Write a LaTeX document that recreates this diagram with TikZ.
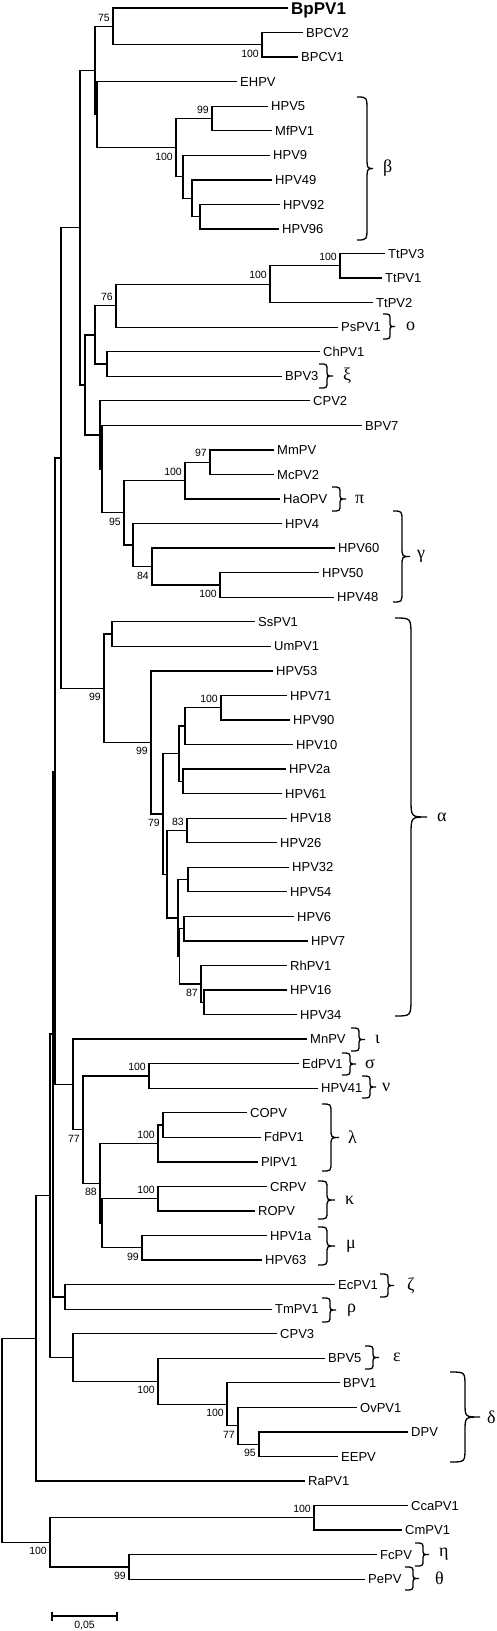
\documentclass[tikz,border=0pt]{standalone}
\usepackage{fontspec}
\setmainfont{Liberation Sans}
\newfontfamily\greekfont{Liberation Serif}
\tikzset{
    branch/.style={line width=1.3pt},
    leaf/.style={anchor=west, inner sep=3pt, text height=9.3pt, text depth=0pt, font=\fontsize{13}{15}\selectfont},
    leafbold/.style={leaf, text height=12.2pt, font=\fontsize{17}{20}\selectfont\bfseries},
    bsup/.style={anchor=south east, inner sep=0pt, xshift=-3pt, yshift=5pt, font=\fontsize{10.5}{12}\selectfont},
    bsdown/.style={anchor=north east, inner sep=0pt, xshift=-3pt, yshift=-5pt, font=\fontsize{10.5}{12}\selectfont},
    greek/.style={anchor=west, inner sep=0pt, font=\fontsize{18}{20}\greekfont},
    bracket/.style={line width=1.3pt},
}
% x, top, bottom, bar offset, tip offset, curl
\newcommand{\cladebrace}[6]{%
    \draw[bracket] (#1,#2) .. controls (#1+#4,#2) .. (#1+#4,#2+#6)
        -- (#1+#4,{(#2+#3)/2-#6}) .. controls (#1+#4,{(#2+#3)/2}) .. (#1+#5,{(#2+#3)/2})
        .. controls (#1+#4,{(#2+#3)/2}) .. (#1+#4,{(#2+#3)/2+#6})
        -- (#1+#4,#3-#6) .. controls (#1+#4,#3) .. (#1,#3);
}

\begin{document}
\begin{tikzpicture}[x=1pt,y=-1pt]
        \useasboundingbox (0,0) rectangle (497,1631);
        %label leaves
        \node[leafbold] (BpPV1) at (288,8) {BpPV1};
        \node[leaf] (BPCV2) at (303,32.6) {BPCV2};
        \node[leaf] (BPCV1) at (298,57.1) {BPCV1};
        \node[leaf] (EHPV) at (237,81.7) {EHPV};
        \node[leaf] (HPV5) at (268,106.2) {HPV5};
        \node[leaf] (MfPV1) at (272,130.8) {MfPV1};
        \node[leaf] (HPV9) at (270,155.3) {HPV9};
        \node[leaf] (HPV49) at (272,179.9) {HPV49};
        \node[leaf] (HPV92) at (280,204.4) {HPV92};
        \node[leaf] (HPV96) at (279,229) {HPV96};
        \node[leaf] (TtPV3) at (385,253.5) {TtPV3};
        \node[leaf] (TtPV1) at (382,278.1) {TtPV1};
        \node[leaf] (TtPV2) at (373,302.6) {TtPV2};
        \node[leaf] (PsPV1) at (338,327.2) {PsPV1};
        \node[leaf] (ChPV1) at (320,351.7) {ChPV1};
        \node[leaf] (BPV3) at (282,376.3) {BPV3};
        \node[leaf] (CPV2) at (310,400.8) {CPV2};
        \node[leaf] (BPV7) at (362,425.4) {BPV7};
        \node[leaf] (MmPV) at (274,449.9) {MmPV};
        \node[leaf] (McPV2) at (274,474.5) {McPV2};
        \node[leaf] (HaOPV) at (280,499) {HaOPV};
        \node[leaf] (HPV4) at (282,523.6) {HPV4};
        \node[leaf] (HPV60) at (335,548.1) {HPV60};
        \node[leaf] (HPV50) at (319,572.7) {HPV50};
        \node[leaf] (HPV48) at (334,597.2) {HPV48};
        \node[leaf] (SsPV1) at (255,621.8) {SsPV1};
        \node[leaf] (UmPV1) at (271,646.3) {UmPV1};
        \node[leaf] (HPV53) at (273,670.9) {HPV53};
        \node[leaf] (HPV71) at (287,695.4) {HPV71};
        \node[leaf] (HPV90) at (290,720) {HPV90};
        \node[leaf] (HPV10) at (293,744.5) {HPV10};
        \node[leaf] (HPV2a) at (286,769.1) {HPV2a};
        \node[leaf] (HPV61) at (282,793.6) {HPV61};
        \node[leaf] (HPV18) at (287,818.2) {HPV18};
        \node[leaf] (HPV26) at (277,842.7) {HPV26};
        \node[leaf] (HPV32) at (289,867.3) {HPV32};
        \node[leaf] (HPV54) at (287,891.8) {HPV54};
        \node[leaf] (HPV6) at (294,916.4) {HPV6};
        \node[leaf] (HPV7) at (308,940.9) {HPV7};
        \node[leaf] (RhPV1) at (287,965.5) {RhPV1};
        \node[leaf] (HPV16) at (287,990) {HPV16};
        \node[leaf] (HPV34) at (297,1014.6) {HPV34};
        \node[leaf] (MnPV) at (307,1039.1) {MnPV};
        \node[leaf] (EdPV1) at (299,1063.7) {EdPV1};
        \node[leaf] (HPV41) at (318,1088.2) {HPV41};
        \node[leaf] (COPV) at (247,1112.8) {COPV};
        \node[leaf] (FdPV1) at (261,1137.3) {FdPV1};
        \node[leaf] (PlPV1) at (258,1161.9) {PlPV1};
        \node[leaf] (CRPV) at (267,1186.4) {CRPV};
        \node[leaf] (ROPV) at (255,1211) {ROPV};
        \node[leaf] (HPV1a) at (267,1235.5) {HPV1a};
        \node[leaf] (HPV63) at (262,1260.1) {HPV63};
        \node[leaf] (EcPV1) at (335,1284.6) {EcPV1};
        \node[leaf] (TmPV1) at (272,1309.2) {TmPV1};
        \node[leaf] (CPV3) at (277,1333.7) {CPV3};
        \node[leaf] (BPV5) at (325,1358.3) {BPV5};
        \node[leaf] (BPV1) at (340,1382.8) {BPV1};
        \node[leaf] (OvPV1) at (357,1407.4) {OvPV1};
        \node[leaf] (DPV) at (408,1431.9) {DPV};
        \node[leaf] (EEPV) at (338,1456.5) {EEPV};
        \node[leaf] (RaPV1) at (305,1481) {RaPV1};
        \node[leaf] (CcaPV1) at (408,1505.6) {CcaPV1};
        \node[leaf] (CmPV1) at (402,1530.1) {CmPV1};
        \node[leaf] (FcPV) at (377,1554.7) {FcPV};
        \node[leaf] (PePV) at (365,1579.2) {PePV};
        %inner nodes
        \coordinate (bpcv) at (262,44.8);
        \coordinate (n75) at (113,26.4);
        \coordinate (hpv5) at (212,118.5);
        \coordinate (hpv92) at (200,216.7);
        \coordinate (hpv49) at (192,198.3);
        \coordinate (hpv9) at (183,176.8);
        \coordinate (beta) at (176,147.6);
        \coordinate (ehpv) at (97,114.6);
        \coordinate (topc) at (95,70.5);
        \coordinate (ttpv3) at (340,265.8);
        \coordinate (ttpv) at (270,284.2);
        \coordinate (n76) at (116,305.7);
        \coordinate (chpv) at (107,364);
        \coordinate (omxi) at (95,334.9);
        \coordinate (mmpv) at (210,462.2);
        \coordinate (hapv) at (185,480.6);
        \coordinate (hpv50) at (220,584.9);
        \coordinate (n84) at (152,566.5);
        \coordinate (hpv4) at (133,545);
        \coordinate (n95) at (124,512.8);
        \coordinate (bpv7) at (102,469.1);
        \coordinate (cpv2) at (100,435);
        \coordinate (midc) at (85,385);
        \coordinate (upc) at (80,227.8);
        \coordinate (sspv) at (112,634);
        \coordinate (hpv71) at (221,707.7);
        \coordinate (hpv10) at (185,726.1);
        \coordinate (hpv2a) at (183,781.3);
        \coordinate (hpv10b) at (179,753.7);
        \coordinate (hpv18) at (187,830.4);
        \coordinate (hpv32) at (188,879.5);
        \coordinate (hpv6) at (184,928.6);
        \coordinate (hpv16) at (204,1002.3);
        \coordinate (n87) at (201,983.9);
        \coordinate (hpv6b) at (179.5,956.3);
        \coordinate (hpv32b) at (178,917.9);
        \coordinate (hpv18b) at (167,874.2);
        \coordinate (n79) at (163,814);
        \coordinate (n99b) at (151,742.4);
        \coordinate (n99a) at (104,688.2);
        \coordinate (alphaup) at (61,458);
        \coordinate (edpv) at (149,1075.9);
        \coordinate (copv) at (163,1125);
        \coordinate (lambda) at (158,1143.4);
        \coordinate (crpv) at (158,1198.7);
        \coordinate (hpv1a) at (142,1247.8);
        \coordinate (kapmu) at (102,1223.2);
        \coordinate (n88) at (100,1183.3);
        \coordinate (n77a) at (83,1129.6);
        \coordinate (mnpv) at (73,1084.3);
        \coordinate (spinea) at (55,771.2);
        \coordinate (ecpv) at (65,1296.9);
        \coordinate (spineb) at (53,1034);
        \coordinate (dpv) at (259,1444.2);
        \coordinate (n77b) at (238,1425.8);
        \coordinate (n100d) at (227,1404.3);
        \coordinate (n100e) at (158,1381.3);
        \coordinate (cpv3) at (73,1357.5);
        \coordinate (spinec) at (50,1195.8);
        \coordinate (rapv) at (36,1338.4);
        \coordinate (ccapv) at (314,1517.8);
        \coordinate (fcpv) at (129,1566.9);
        \coordinate (n100f) at (50,1542.4);
        \coordinate (root) at (2,1440.4);
        %draw branches
        \draw[branch] (BPCV2.west) -| (bpcv) |- (BPCV1.west);
        \draw[branch] (BpPV1.west) -| (n75) |- (bpcv);
        \draw[branch] (HPV5.west) -| (hpv5) |- (MfPV1.west);
        \draw[branch] (HPV92.west) -| (hpv92) |- (HPV96.west);
        \draw[branch] (HPV49.west) -| (hpv49) |- (hpv92);
        \draw[branch] (HPV9.west) -| (hpv9) |- (hpv49);
        \draw[branch] (hpv5) -| (beta) |- (hpv9);
        \draw[branch] (EHPV.west) -| (ehpv) |- (beta);
        \draw[branch] (n75) -| (topc) |- (ehpv);
        \draw[branch] (TtPV3.west) -| (ttpv3) |- (TtPV1.west);
        \draw[branch] (ttpv3) -| (ttpv) |- (TtPV2.west);
        \draw[branch] (ttpv) -| (n76) |- (PsPV1.west);
        \draw[branch] (ChPV1.west) -| (chpv) |- (BPV3.west);
        \draw[branch] (n76) -| (omxi) |- (chpv);
        \draw[branch] (MmPV.west) -| (mmpv) |- (McPV2.west);
        \draw[branch] (mmpv) -| (hapv) |- (HaOPV.west);
        \draw[branch] (HPV50.west) -| (hpv50) |- (HPV48.west);
        \draw[branch] (HPV60.west) -| (n84) |- (hpv50);
        \draw[branch] (HPV4.west) -| (hpv4) |- (n84);
        \draw[branch] (hapv) -| (n95) |- (hpv4);
        \draw[branch] (BPV7.west) -| (bpv7) |- (n95);
        \draw[branch] (CPV2.west) -| (cpv2) |- (bpv7);
        \draw[branch] (omxi) -| (midc) |- (cpv2);
        \draw[branch] (topc) -| (upc) |- (midc);
        \draw[branch] (SsPV1.west) -| (sspv) |- (UmPV1.west);
        \draw[branch] (HPV71.west) -| (hpv71) |- (HPV90.west);
        \draw[branch] (hpv71) -| (hpv10) |- (HPV10.west);
        \draw[branch] (HPV2a.west) -| (hpv2a) |- (HPV61.west);
        \draw[branch] (hpv10) -| (hpv10b) |- (hpv2a);
        \draw[branch] (HPV18.west) -| (hpv18) |- (HPV26.west);
        \draw[branch] (HPV32.west) -| (hpv32) |- (HPV54.west);
        \draw[branch] (HPV6.west) -| (hpv6) |- (HPV7.west);
        \draw[branch] (HPV16.west) -| (hpv16) |- (HPV34.west);
        \draw[branch] (RhPV1.west) -| (n87) |- (hpv16);
        \draw[branch] (hpv6) -| (hpv6b) |- (n87);
        \draw[branch] (hpv32) -| (hpv32b) |- (hpv6b);
        \draw[branch] (hpv18) -| (hpv18b) |- (hpv32b);
        \draw[branch] (hpv10b) -| (n79) |- (hpv18b);
        \draw[branch] (HPV53.west) -| (n99b) |- (n79);
        \draw[branch] (sspv) -| (n99a) |- (n99b);
        \draw[branch] (upc) -| (alphaup) |- (n99a);
        \draw[branch] (EdPV1.west) -| (edpv) |- (HPV41.west);
        \draw[branch] (COPV.west) -| (copv) |- (FdPV1.west);
        \draw[branch] (copv) -| (lambda) |- (PlPV1.west);
        \draw[branch] (CRPV.west) -| (crpv) |- (ROPV.west);
        \draw[branch] (HPV1a.west) -| (hpv1a) |- (HPV63.west);
        \draw[branch] (crpv) -| (kapmu) |- (hpv1a);
        \draw[branch] (lambda) -| (n88) |- (kapmu);
        \draw[branch] (edpv) -| (n77a) |- (n88);
        \draw[branch] (MnPV.west) -| (mnpv) |- (n77a);
        \draw[branch] (alphaup) -| (spinea) |- (mnpv);
        \draw[branch] (EcPV1.west) -| (ecpv) |- (TmPV1.west);
        \draw[branch] (spinea) -| (spineb) |- (ecpv);
        \draw[branch] (DPV.west) -| (dpv) |- (EEPV.west);
        \draw[branch] (OvPV1.west) -| (n77b) |- (dpv);
        \draw[branch] (BPV1.west) -| (n100d) |- (n77b);
        \draw[branch] (BPV5.west) -| (n100e) |- (n100d);
        \draw[branch] (CPV3.west) -| (cpv3) |- (n100e);
        \draw[branch] (spineb) -| (spinec) |- (cpv3);
        \draw[branch] (spinec) -| (rapv) |- (RaPV1.west);
        \draw[branch] (CcaPV1.west) -| (ccapv) |- (CmPV1.west);
        \draw[branch] (FcPV.west) -| (fcpv) |- (PePV.west);
        \draw[branch] (ccapv) -| (n100f) |- (fcpv);
        \draw[branch] (rapv) -| (root) |- (n100f);
        %label bootstrap values
        \node[bsup] (bsn75) at (n75) {75};
        \node[bsdown] (bsbpcv) at (bpcv) {100};
        \node[bsup] (bshpv5) at (hpv5) {99};
        \node[bsdown] (bsbeta) at (beta) {100};
        \node[bsup] (bsttpv3) at (ttpv3) {100};
        \node[bsup] (bsttpv) at (ttpv) {100};
        \node[bsup] (bsn76) at (n76) {76};
        \node[bsup] (bsmmpv) at (mmpv) {97};
        \node[bsup] (bshapv) at (hapv) {100};
        \node[bsdown] (bsn95) at (n95) {95};
        \node[bsdown] (bsn84) at (n84) {84};
        \node[bsdown] (bshpv50) at (hpv50) {100};
        \node[bsdown] (bsn99a) at (n99a) {99};
        \node[bsdown] (bsn99b) at (n99b) {99};
        \node[bsup] (bshpv71) at (hpv71) {100};
        \node[bsdown] (bsn79) at (n79) {79};
        \node[bsup] (bshpv18) at (hpv18) {83};
        \node[bsdown] (bsn87) at (n87) {87};
        \node[bsup] (bsedpv) at (edpv) {100};
        \node[bsdown] (bsn77a) at (n77a) {77};
        \node[bsup] (bslambda) at (lambda) {100};
        \node[bsdown] (bsn88) at (n88) {88};
        \node[bsup] (bscrpv) at (crpv) {100};
        \node[bsdown] (bshpv1a) at (hpv1a) {99};
        \node[bsdown] (bsn100e) at (n100e) {100};
        \node[bsdown] (bsn100d) at (n100d) {100};
        \node[bsdown] (bsn77b) at (n77b) {77};
        \node[bsdown] (bsdpv) at (dpv) {95};
        \node[bsup] (bsccapv) at (ccapv) {100};
        \node[bsdown] (bsn100f) at (n100f) {100};
        \node[bsdown] (bsfcpv) at (fcpv) {99};
        %draw clade braces
        \cladebrace{357}{97}{240}{10}{16}{14}
        \node[greek] (gbeta) at (383,168.5) {β};
        \cladebrace{383}{314}{339}{7}{12}{6}
        \node[greek] (gomicron) at (406,326.5) {ο};
        \cladebrace{319}{364}{388}{8}{14}{6}
        \node[greek] (gxi) at (343,376) {ξ};
        \cladebrace{332}{487}{511}{8}{14}{6}
        \node[greek] (gpi) at (355,499) {π};
        \cladebrace{393}{511}{602}{9}{17}{10}
        \node[greek] (ggamma) at (417,556.5) {γ};
        \cladebrace{395}{618}{1016}{16}{32}{18}
        \node[greek] (galpha) at (437,817) {α};
        \cladebrace{351}{1028}{1051}{8}{14}{6}
        \node[greek] (giota) at (375,1039.5) {ι};
        \cladebrace{342}{1053}{1075}{8}{14}{6}
        \node[greek] (gsigma) at (365,1064) {σ};
        \cladebrace{362}{1076}{1098}{8}{14}{6}
        \node[greek] (gnu) at (382,1087) {ν};
        \cladebrace{322}{1104}{1171}{9}{17}{9}
        \node[greek] (glambda) at (348,1137.5) {λ};
        \cladebrace{318}{1181}{1219}{9}{17}{8}
        \node[greek] (gkappa) at (345,1200) {κ};
        \cladebrace{318}{1227}{1265}{9}{17}{8}
        \node[greek] (gmu) at (346,1246) {μ};
        \cladebrace{380}{1274}{1297}{8}{14}{6}
        \node[greek] (gzeta) at (407,1285.5) {ζ};
        \cladebrace{322}{1298}{1322}{8}{14}{6}
        \node[greek] (grho) at (347,1310) {ρ};
        \cladebrace{365}{1346}{1369}{8}{14}{6}
        \node[greek] (gepsilon) at (393,1357.5) {ε};
        \cladebrace{450}{1372}{1462}{15}{30}{14}
        \node[greek] (gdelta) at (487,1417) {δ};
        \cladebrace{415}{1543}{1566}{8}{14}{6}
        \node[greek] (geta) at (439,1554.5) {η};
        \cladebrace{405}{1567}{1590}{8}{14}{6}
        \node[greek] (gtheta) at (435,1578.5) {θ};
        %draw scale bar
        \coordinate (sbl) at (52,1616);
        \coordinate (sbr) at (117,1616);
        \draw[branch] (sbl) -- (sbr) (sbl) ++(0,-4.5) -- ++(0,9) (sbr) ++(0,-4.5) -- ++(0,9);
        \node[anchor=north, inner sep=0pt, font=\fontsize{10.5}{12}\selectfont] (sblabel) at (84.5,1621) {0,05};
    \end{tikzpicture}
\end{document}
